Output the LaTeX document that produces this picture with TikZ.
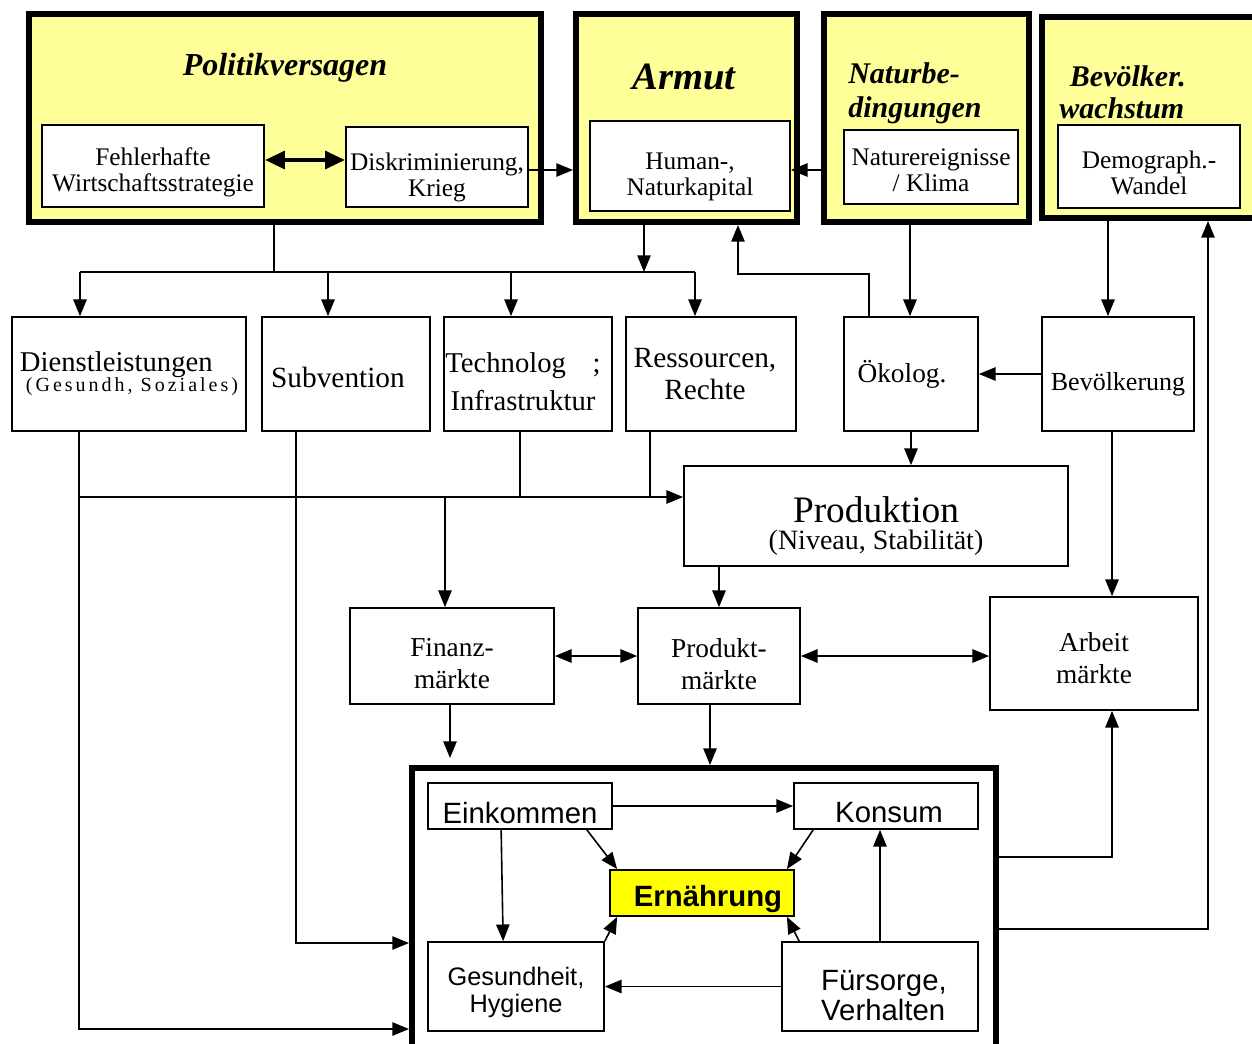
\documentclass[tikz,border=0pt]{standalone}
\usepackage{fontspec}
\setmainfont{Liberation Serif}
\newfontfamily\arialf{Liberation Sans}
\usetikzlibrary{arrows.meta,calc}
\newcommand\fs[2]{\fontsize{#1pt}{#2pt}\selectfont}
% box with separately offset text: name x1 y1 x2 y2 boxstyle textstyle text offset
\newcommand\bx[9]{\node[#6, minimum width={(#4-#2)*0.75pt}, minimum height={(#5-#3)*0.75pt}] (#1) at ({(#2+#4)/2},{(#3+#5)/2}) {};
\node[txt,#7] (#1t) at ($(#1.center)+(#9)$) {#8};}
\newcommand\bb[5]{\node[bigbox, minimum width={(#4-#2)*0.75pt}, minimum height={(#5-#3)*0.75pt}] (#1) at ({(#2+#4)/2},{(#3+#5)/2}) {};}
\definecolor{paley}{HTML}{FFFF99}
\definecolor{ylw}{HTML}{FFFF00}
\tikzset{
  >={Triangle[length=12.5pt,width=10pt]},
  bigbox/.style={draw, line width=4.5pt, fill=paley, inner sep=0pt},
  box/.style={draw, line width=1.3pt, fill=white, inner sep=0pt},
  txt/.style={inner sep=0pt, align=center},
  ttl/.style={font=\bfseries\itshape, inner sep=0pt},
  ln/.style={line width=1.2pt},
  arr/.style={ln, ->},
  dbl/.style={ln, <->},
  thk/.style={line width=3.6pt, {Triangle[length=15pt,width=13pt]}-{Triangle[length=15pt,width=13pt]}},
}
\begin{document}
\begin{tikzpicture}[x=0.75pt,y=-0.75pt]
\useasboundingbox (0,0) rectangle (1252,1043);
% top yellow boxes
\bb{pol}{29}{14}{541}{222}
\bb{arm}{576}{14}{797}{222}
\bb{nat}{824}{14}{1029}{222}
\bb{bev}{1042}{17}{1266}{218}
\node[ttl, font=\bfseries\itshape\fs{24}{26}] (tpol) at (285,68) {Politikversagen};
\node[ttl, font=\bfseries\itshape\fs{29}{30}] (tarm) at (684,77) {Armut};
\node[ttl, font=\bfseries\itshape\fs{22.5}{25.5}, align=left, anchor=west] (tnat) at (848,93) {Naturbe-\\dingungen};
\node[ttl, font=\bfseries\itshape\fs{22.5}{24}, align=left, anchor=west] (tbev) at (1059,92) {\hspace*{8pt}Bevölker.\\wachstum};
% inner top boxes
\bx{feh}{42}{125}{264}{207}{box}{font=\fs{19}{19.5}}{Fehlerhafte\\Wirtschaftsstrategie}{0,6}
\bx{dis}{346}{127}{528}{207}{box}{font=\fs{19}{19.5}}{Diskriminierung,\\Krieg}{0,10}
\bx{hum}{590}{121}{790}{211}{box}{font=\fs{19}{19.5}}{Human-,\\Naturkapital}{0,11}
\bx{ner}{844}{130}{1018}{204}{box}{font=\fs{19}{19.5}}{Naturereignisse\\/ Klima}{0,3}
\bx{dem}{1058}{125}{1240}{208}{box}{font=\fs{19}{19.5}}{Demograph.-\\Wandel}{0,6}
% middle row
\bx{dl}{12}{317}{246}{431}{box}{font=\fs{21.5}{22}, align=left}{Dienstleistungen\\[-7pt]\hspace*{4.5pt}{\fs{15}{15}\addfontfeature{LetterSpace=15}(Gesundh, Soziales)}}{0,0}
\bx{sub}{262}{317}{430}{431}{box}{font=\fs{22}{24}}{Subvention}{-8,3}
\bx{tec}{444}{317}{612}{431}{box}{font=\fs{21.5}{28.5}}{Technolog\hspace{20pt};\\Infrastruktur}{-5,8}
\bx{res}{626}{317}{796}{431}{box}{font=\fs{22}{24}}{Ressourcen,\\Rechte}{-6,0}
\bx{oek}{844}{317}{978}{431}{box}{font=\fs{20.5}{22}}{Ökolog.}{-9,0}
\bx{bvk}{1042}{317}{1194}{431}{box}{font=\fs{19.5}{21}}{Bevölkerung}{0,10}
\bx{prod}{684}{466}{1068}{566}{box}{font=\fs{21}{20}}{{\fs{28}{20}Produktion}\\(Niveau, Stabilität)}{0,10}
\bx{fin}{350}{608}{554}{704}{box}{font=\fs{20.5}{24}}{Finanz-\\märkte}{0,8}
\bx{pm}{638}{608}{800}{704}{box}{font=\fs{20.5}{24}}{Produkt-\\märkte}{0,8}
\bx{arb}{990}{597}{1198}{710}{box}{font=\fs{20.5}{24}}{Arbeit\\märkte}{0,5}
% bottom big box
\node[draw, line width=4.5pt, inner sep=0pt, minimum width={584*0.75pt}, minimum height={307*0.75pt}] (big) at (704,921.5) {};
\bx{ein}{428}{783}{612}{829}{box}{font=\arialf\fs{22}{24}}{Einkommen}{0,7}
\bx{kon}{794}{783}{978}{829}{box}{font=\arialf\fs{22}{24}}{Konsum}{3,7}
\bx{ern}{610}{870}{794}{916}{box, fill=ylw}{font=\arialf\bfseries\fs{22}{24}}{Ernährung}{6,6}
\bx{ges}{428}{942}{604}{1031}{box}{font=\arialf\fs{19}{20}}{Gesundheit,\\Hygiene}{0,6}
\bx{fur}{782}{942}{978}{1031}{box}{font=\arialf\fs{22}{22.5}, align=left}{Fürsorge,\\Verhalten}{4,9}
% coordinates
\coordinate (t1) at (274,272);
\coordinate (a1) at (80,272);
\coordinate (a2) at (328,272);
\coordinate (a3) at (511,272);
\coordinate (a4) at (695,272);
\coordinate (a5) at (644,272);
\coordinate (o1) at (869,274);
\coordinate (o2) at (738,274);
\coordinate (n1) at (910,0);
\coordinate (b1) at (1108,0);
\coordinate (d1) at (79,497);
\coordinate (d2) at (79,1029);
\coordinate (s1) at (296,943);
\coordinate (tx) at (520,497);
\coordinate (rx) at (650,497);
\coordinate (f1) at (445,497);
\coordinate (bv2) at (1112,0);
\coordinate (p1) at (719,0);
\coordinate (q1) at (450,0);
\coordinate (fe) at (450,758);
\coordinate (q2) at (710,0);
\coordinate (r1) at (1112,857);
\coordinate (r2) at (1208,929);
% top connectors
\draw[thk] ($(feh.east)+(0,-6)$) -- ($(feh.east -| dis.west)+(0,-6)$);
\draw[arr] ($(dis.east)+(0,3)$) -- ($(dis.east -| arm.west)+(0,3)$);
\draw[arr] ($(nat.west |- hum.east)+(0,4)$) -- ($(hum.east)+(0,4)$);
\draw[ln] (pol.south -| t1) -- (t1);
\draw[ln] (a1) -- (a4);
\draw[arr] (a5 |- arm.south) -- (a5);
\draw[arr] (a1) -- (a1 |- dl.north);
\draw[arr] (a2) -- (a2 |- sub.north);
\draw[arr] (a3) -- (a3 |- tec.north);
\draw[arr] (a4) -- (a4 |- res.north);
\draw[arr] (o1 |- oek.north) -- (o1) -- (o2) -- (o2 |- arm.south);
\draw[arr] (n1 |- nat.south) -- (n1 |- oek.north);
\draw[arr] (b1 |- bev.south) -- (b1 |- bvk.north);
\draw[arr] (bvk.west) -- (oek.east);
% middle connectors
\draw[ln] (d1 |- dl.south) -- (d1);
\draw[arr] (d1) -- (d1 -| prod.west);
\draw[arr] (d1) -- (d2) -- (d2 -| big.west);
\draw[arr] (s1 |- sub.south) -- (s1) -- (s1 -| big.west);
\draw[ln] (tx |- tec.south) -- (tx);
\draw[ln] (rx |- res.south) -- (rx);
\draw[arr] (f1) -- (f1 |- fin.north);
\draw[arr] (oek.south) -- (oek.south |- prod.north);
\draw[arr] (bv2 |- bvk.south) -- (bv2 |- arb.north);
\draw[arr] (p1 |- prod.south) -- (p1 |- pm.north);
\draw[dbl] (fin.east) -- (pm.west);
\draw[dbl] (pm.east) -- (pm.east -| arb.west);
\draw[arr] (q1 |- fin.south) -- (fe);
\draw[arr] (q2 |- pm.south) -- (q2 |- big.north);
\draw[arr] (r1 -| big.east) -- (r1) -- (r1 |- arb.south);
\draw[arr] (r2 -| big.east) -- (r2) -- (r2 |- bev.south);
% inner connectors
\draw[arr] (ein.east) -- (kon.west);
\draw[arr] ($(ein.south east)+(-26,0)$) -- ($(ern.north west)+(8,0)$);
\draw[arr] ($(kon.south west)+(20,0)$) -- ($(ern.north east)+(-8,0)$);
\draw[arr] ($(ein.south west)+(74,0)$) -- ($(ges.north west)+(76,0)$);
\draw[arr] (ges.north east) -- ($(ern.south west)+(8,0)$);
\draw[arr] ($(fur.north west)+(18,0)$) -- ($(ern.south east)+(-8,0)$);
\draw[arr] (fur.north) -- (fur.north |- kon.south);
\draw[arr] (fur.west) -- (fur.west -| ges.east);
\end{tikzpicture}
\end{document}
